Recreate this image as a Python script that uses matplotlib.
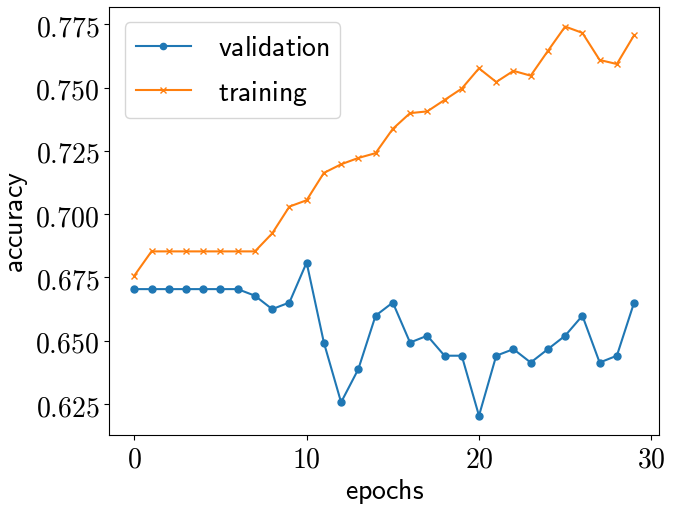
import matplotlib

matplotlib.use("Agg")
import matplotlib.pyplot as plt
from matplotlib.ticker import FuncFormatter

plt.rcParams["mathtext.fontset"] = "cm"

epochs = list(range(30))
validation = [
    0.6704, 0.6704, 0.6704, 0.6704, 0.6704, 0.6704, 0.6704, 0.6678, 0.6625, 0.6651,
    0.6809, 0.6493, 0.6257, 0.6388, 0.6599, 0.6651, 0.6493, 0.6520, 0.6441, 0.6441,
    0.6204, 0.6441, 0.6467, 0.6414, 0.6467, 0.6520, 0.6599, 0.6414, 0.6441, 0.6651,
]
training = [
    0.6757, 0.6853, 0.6853, 0.6853, 0.6853, 0.6853, 0.6853, 0.6853, 0.6924, 0.7030,
    0.7055, 0.7163, 0.7197, 0.7222, 0.7241, 0.7337, 0.7399, 0.7406, 0.7451, 0.7496,
    0.7576, 0.7522, 0.7566, 0.7547, 0.7645, 0.7741, 0.7716, 0.7609, 0.7593, 0.7707,
]

fig, ax = plt.subplots(figsize=(6.83, 5.06), dpi=100)
fig.subplots_adjust(left=0.160, right=0.965, top=0.984, bottom=0.138)

ax.plot(epochs, validation, marker="o", markersize=5, label=r"$\mathsf{validation}$")
ax.plot(epochs, training, marker="x", markersize=5, label=r"$\mathsf{training}$")

ax.xaxis.set_major_formatter(FuncFormatter(lambda v, p: f"${v:g}$"))
ax.yaxis.set_major_formatter(FuncFormatter(lambda v, p: f"${v:.3f}$"))
ax.tick_params(labelsize=20)

ax.set_xlabel(r"$\mathsf{epochs}$", fontsize=20, labelpad=2)
ax.set_ylabel(r"$\mathsf{accuracy}$", fontsize=20)
ax.legend(fontsize=20, loc="upper left", borderaxespad=0.55,
          handletextpad=0.95, labelspacing=0.6, markerscale=0.9)

fig.savefig("out.png", dpi=100)
